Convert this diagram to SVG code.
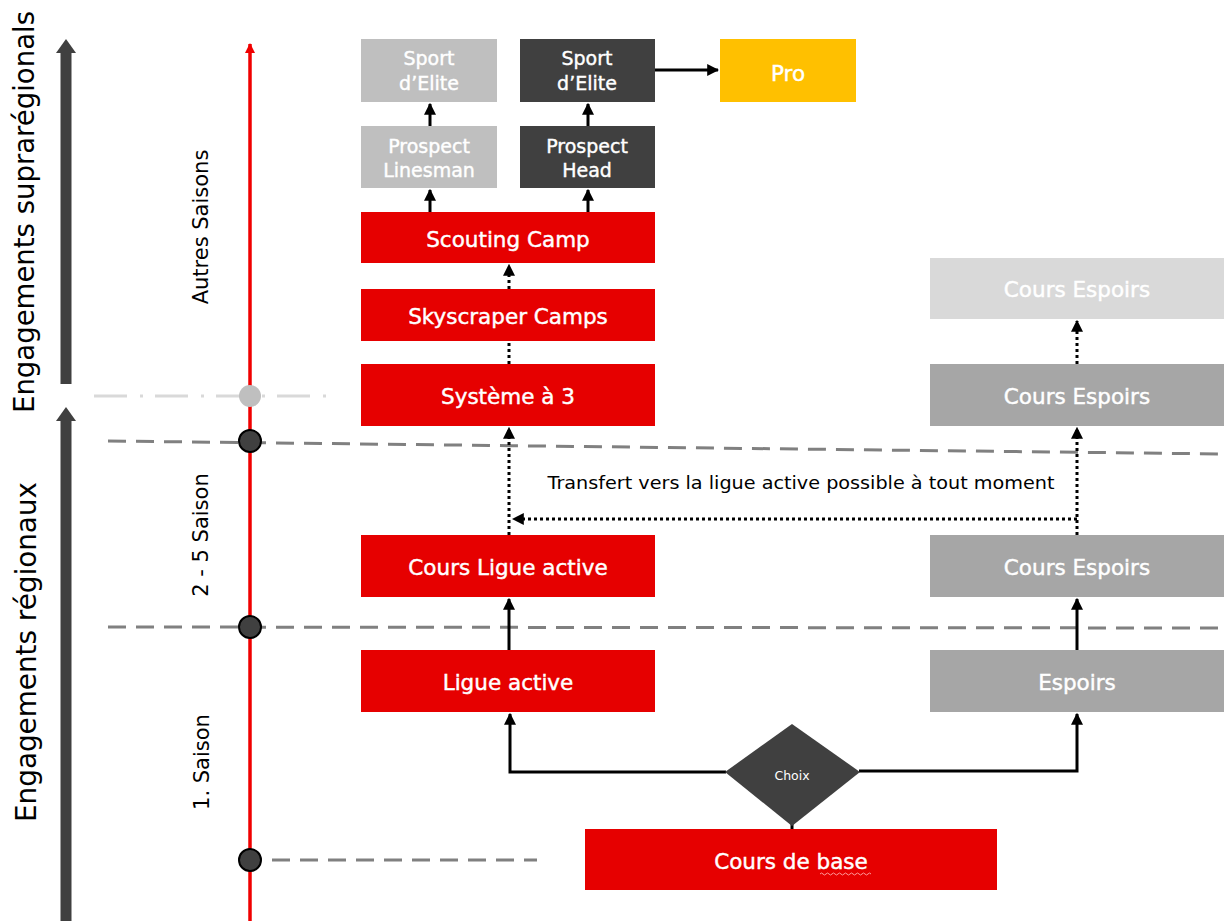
<svg xmlns="http://www.w3.org/2000/svg" width="1224" height="921" viewBox="0 0 1224 921">
<defs>
<style>
.box{stroke:none}
.red{fill:#E60000}
.lg{fill:#BFBFBF}
.dk{fill:#404040}
.pro{fill:#FFC000}
.gr{fill:#A6A6A6}
.xl{fill:#D9D9D9}
.bt{font-family:"DejaVu Sans","Liberation Sans",sans-serif;font-size:21.5px;fill:#fff;stroke:#fff;stroke-width:0.45px;text-anchor:middle}
.st{font-family:"DejaVu Sans","Liberation Sans",sans-serif;font-size:19px;fill:#fff;stroke:#fff;stroke-width:0.4px;text-anchor:middle}
.lbl{font-family:"DejaVu Sans","Liberation Sans",sans-serif;fill:#000;text-anchor:middle}
.solid{stroke:#000;stroke-width:3;fill:none}
.dot{stroke:#000;stroke-width:3;fill:none;stroke-dasharray:3 3}
.dash{stroke:#808080;stroke-width:3;fill:none;stroke-dasharray:18 10}
</style>
<marker id="ah" viewBox="0 0 10 10" refX="9" refY="5" markerWidth="4" markerHeight="4" orient="auto" markerUnits="strokeWidth">
<path d="M0,0 L10,5 L0,10 z" fill="#000"/>
</marker>
<marker id="ahr" viewBox="0 0 10 10" refX="9" refY="5" markerWidth="3" markerHeight="3" orient="auto" markerUnits="strokeWidth">
<path d="M0,0 L10,5 L0,10 z" fill="#F00000"/>
</marker>
</defs>
<rect width="1224" height="921" fill="#fff"/>

<g id="axes">
<path d="M66,384 V52" stroke="#404040" stroke-width="11" fill="none"/>
<path d="M56,53 L66,39 L76,53 z" fill="#404040"/>
<path d="M66,921 V420" stroke="#404040" stroke-width="11" fill="none"/>
<path d="M56,421 L66,407 L76,421 z" fill="#404040"/>
<text class="lbl" transform="translate(34,212) rotate(-90)" font-size="28" textLength="402" lengthAdjust="spacingAndGlyphs">Engagements suprarégionals</text>
<text class="lbl" transform="translate(36,652) rotate(-90)" font-size="28" textLength="340" lengthAdjust="spacingAndGlyphs">Engagements régionaux</text>
</g>

<g id="separators">
<line x1="94" y1="396" x2="338" y2="396" stroke="#D9D9D9" stroke-width="3" stroke-dasharray="33 13 3 12"/>
<line x1="108" y1="441" x2="1224" y2="454" class="dash"/>
<line x1="108" y1="627" x2="1224" y2="628" class="dash"/>
<line x1="272" y1="860" x2="537" y2="860" class="dash"/>
</g>

<g id="timeline">
<line x1="250" y1="921" x2="250" y2="44" stroke="#F00000" stroke-width="3.5" marker-end="url(#ahr)"/>
<circle cx="250" cy="396" r="11" fill="#BFBFBF"/>
<circle cx="250" cy="441" r="11" fill="#404040" stroke="#000" stroke-width="2"/>
<circle cx="250" cy="627" r="11" fill="#404040" stroke="#000" stroke-width="2"/>
<circle cx="250" cy="860" r="11" fill="#404040" stroke="#000" stroke-width="2"/>
<text class="lbl" transform="translate(208,227) rotate(-90)" font-size="21">Autres Saisons</text>
<text class="lbl" transform="translate(208,535) rotate(-90)" font-size="21">2 - 5 Saison</text>
<text class="lbl" transform="translate(209,762) rotate(-90)" font-size="21">1. Saison</text>
</g>

<g id="connectors">
<line x1="430" y1="212" x2="430" y2="190" class="solid" marker-end="url(#ah)"/>
<line x1="430" y1="126" x2="430" y2="104" class="solid" marker-end="url(#ah)"/>
<line x1="588" y1="212" x2="588" y2="190" class="solid" marker-end="url(#ah)"/>
<line x1="588" y1="126" x2="588" y2="104" class="solid" marker-end="url(#ah)"/>
<line x1="655" y1="70" x2="718" y2="70" class="solid" marker-end="url(#ah)"/>
<line x1="509" y1="289" x2="509" y2="265" class="dot" marker-end="url(#ah)"/>
<line x1="509" y1="364" x2="509" y2="341" class="dot"/>
<line x1="509" y1="535" x2="509" y2="428" class="dot" marker-end="url(#ah)"/>
<line x1="1077" y1="519" x2="513" y2="519" class="dot" marker-end="url(#ah)"/>
<line x1="1077" y1="535" x2="1077" y2="428" class="dot" marker-end="url(#ah)"/>
<line x1="1077" y1="364" x2="1077" y2="321" class="dot" marker-end="url(#ah)"/>
<line x1="509" y1="650" x2="509" y2="599" class="solid" marker-end="url(#ah)"/>
<line x1="1077" y1="650" x2="1077" y2="599" class="solid" marker-end="url(#ah)"/>
<polyline points="726,772 510,772 510,714" class="solid" marker-end="url(#ah)"/>
<polyline points="859,771 1077,771 1077,714" class="solid" marker-end="url(#ah)"/>
<line x1="792" y1="824" x2="792" y2="829" class="solid"/>
<text class="lbl" x="801" y="489" font-size="17.5" textLength="507" lengthAdjust="spacingAndGlyphs">Transfert vers la ligue active possible à tout moment</text>
</g>

<g id="sport-elite-linesman"><rect class="box lg" x="361" y="39" width="136" height="63"/><text class="st" x="429" y="65">Sport</text><text class="st" x="429" y="90">d’Elite</text></g>
<g id="sport-elite-head"><rect class="box dk" x="520" y="39" width="135" height="63"/><text class="st" x="587" y="65">Sport</text><text class="st" x="587" y="90">d’Elite</text></g>
<g id="pro"><rect class="box pro" x="720" y="39" width="136" height="63"/><text class="bt" x="788" y="81">Pro</text></g>
<g id="prospect-linesman"><rect class="box lg" x="361" y="126" width="136" height="62"/><text class="st" x="429" y="153">Prospect</text><text class="st" x="429" y="177">Linesman</text></g>
<g id="prospect-head"><rect class="box dk" x="520" y="126" width="135" height="62"/><text class="st" x="587" y="153">Prospect</text><text class="st" x="587" y="177">Head</text></g>
<g id="scouting-camp"><rect class="box red" x="361" y="212" width="294" height="51"/><text class="bt" x="508" y="247">Scouting Camp</text></g>
<g id="skyscraper-camps"><rect class="box red" x="361" y="289" width="294" height="52"/><text class="bt" x="508" y="324">Skyscraper Camps</text></g>
<g id="systeme-a-3"><rect class="box red" x="361" y="364" width="294" height="62"/><text class="bt" x="508" y="404">Système à 3</text></g>
<g id="cours-ligue-active"><rect class="box red" x="361" y="535" width="294" height="62"/><text class="bt" x="508" y="575">Cours Ligue active</text></g>
<g id="ligue-active"><rect class="box red" x="361" y="650" width="294" height="62"/><text class="bt" x="508" y="690">Ligue active</text></g>
<g id="cours-espoirs-4"><rect class="box xl" x="930" y="258" width="294" height="61"/><text class="bt" x="1077" y="297">Cours Espoirs</text></g>
<g id="cours-espoirs-3"><rect class="box gr" x="930" y="364" width="294" height="62"/><text class="bt" x="1077" y="404">Cours Espoirs</text></g>
<g id="cours-espoirs-2"><rect class="box gr" x="930" y="535" width="294" height="62"/><text class="bt" x="1077" y="575">Cours Espoirs</text></g>
<g id="espoirs"><rect class="box gr" x="930" y="650" width="294" height="62"/><text class="bt" x="1077" y="690">Espoirs</text></g>
<g id="choix"><polygon points="792,724 860,772 792,826 725,772" fill="#404040"/><text x="792" y="780" font-family="'DejaVu Sans','Liberation Sans',sans-serif" font-size="12.5" fill="#fff" text-anchor="middle">Choix</text></g>
<g id="cours-de-base"><rect class="box red" x="585" y="829" width="412" height="61"/><text class="bt" x="791" y="869">Cours de base</text>
<path d="M820,874 q1.5,-2 3,0 t3,0 t3,0 t3,0 t3,0 t3,0 t3,0 t3,0 t3,0 t3,0 t3,0 t3,0 t3,0 t3,0 t3,0 t3,0 t3,0" stroke="#FF9999" stroke-width="1" fill="none"/></g>
</svg>
